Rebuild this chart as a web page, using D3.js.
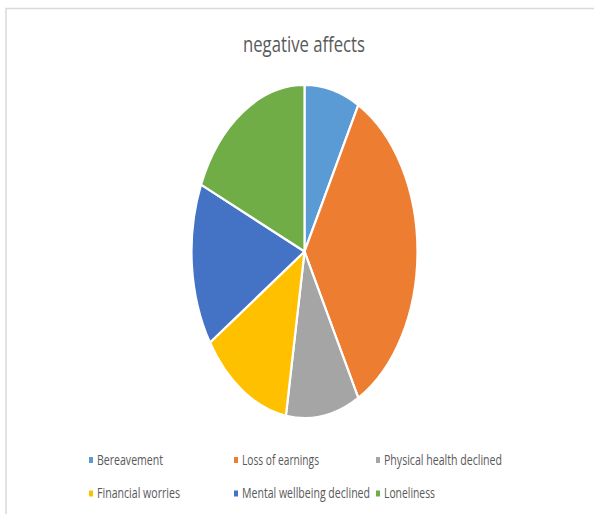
<!DOCTYPE html>
<html>
<head>
<meta charset="utf-8">
<script src="https://cdn.jsdelivr.net/npm/d3@7"></script>
<style>
  html, body { margin: 0; padding: 0; background: #fff; }
  svg { display: block; }
  text { font-family: "Open Sans", "Noto Sans", sans-serif; fill: #595959; }
</style>
</head>
<body>
<svg id="chart" width="594" height="514"></svg>
<script>
// Responses per negative effect
const categories = ["Bereavement", "Loss of earnings", "Physical health declined",
                    "Financial worries", "Mental wellbeing declined", "Loneliness"];
const counts = [3, 13, 4, 5, 6, 7];
const colors = ["#5B9BD5", "#ED7D31", "#A5A5A5", "#FFC000", "#4472C4", "#70AD47"];
const title = "negative affects";

const svg = d3.select("#chart");

// chart frame
svg.append("rect")
  .attr("x", 6).attr("y", 8.5)
  .attr("width", 600).attr("height", 520)
  .attr("fill", "#fff")
  .attr("stroke", "#d9d9d9")
  .attr("stroke-width", 1.5);

svg.append("text")
  .attr("x", 304).attr("y", 52)
  .attr("text-anchor", "middle")
  .attr("font-size", 21)
  .attr("textLength", 122)
  .attr("lengthAdjust", "spacingAndGlyphs")
  .text(title);

// pie, stretched vertically into an ellipse
const cx = 304.5, cy = 251.5, ry = 166.5, rx = 113;
const pie = d3.pie().sort(null).value(d => d)(counts);
const arc = d3.arc().innerRadius(0).outerRadius(ry);

svg.append("g")
  .attr("transform", `translate(${cx},${cy}) scale(${rx / ry},1)`)
  .selectAll("path")
  .data(pie)
  .join("path")
  .attr("d", arc)
  .attr("fill", (d, i) => colors[i])
  .attr("stroke", "#fff")
  .attr("stroke-width", 2.2)
  .attr("vector-effect", "non-scaling-stroke");

// legend, three per row; labels use a tall, narrow face
const colX = [89, 234, 376];
const rowY = [464.5, 498];
const textW = [66, 77, 118, 83, 128, 51];
const stretch = 1.35;
const legend = svg.append("g").selectAll("g")
  .data(categories)
  .join("g")
  .attr("transform", (d, i) => `translate(${colX[i % 3]},${rowY[Math.floor(i / 3)]})`);

legend.append("rect")
  .attr("x", 0).attr("y", -7.5)
  .attr("width", 4).attr("height", 6)
  .attr("fill", (d, i) => colors[i]);

legend.append("text")
  .attr("transform", `scale(1,${stretch})`)
  .attr("x", 8).attr("y", 0)
  .attr("font-size", 10.4)
  .attr("textLength", (d, i) => textW[i])
  .attr("lengthAdjust", "spacingAndGlyphs")
  .text(d => d);
</script>
</body>
</html>
